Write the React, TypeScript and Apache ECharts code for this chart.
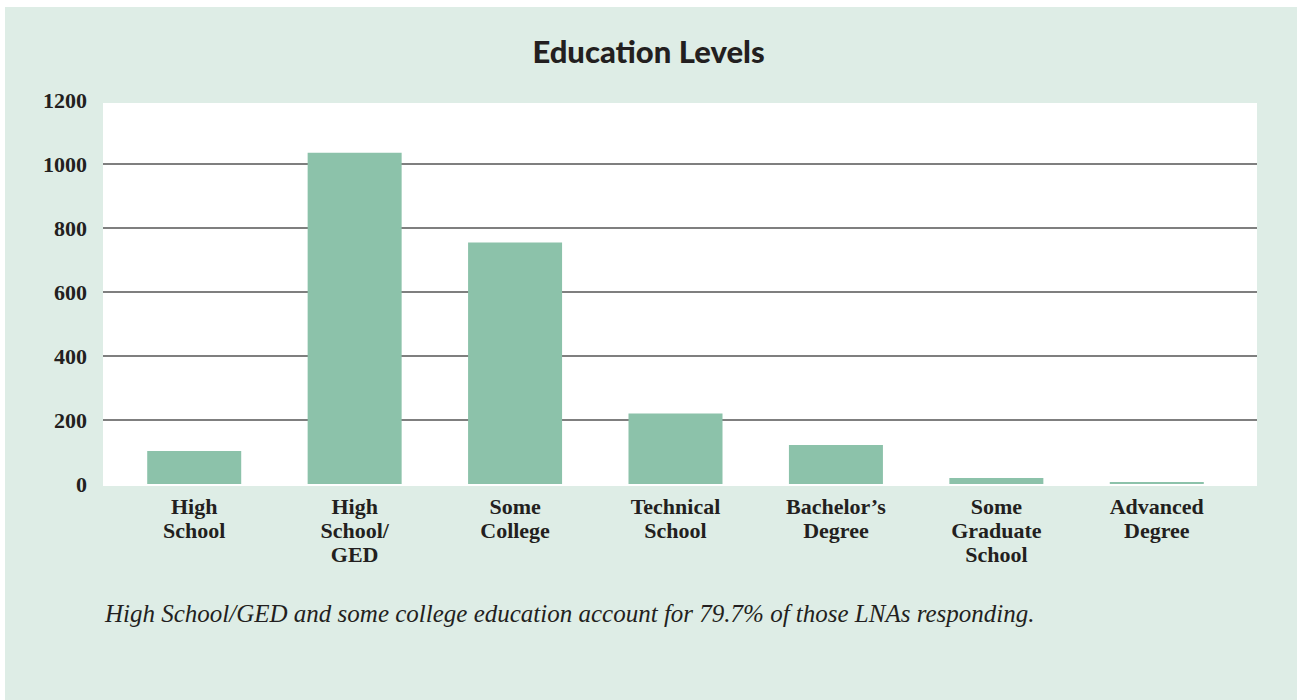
import React, { useEffect, useRef } from "react";
import * as echarts from "echarts";

const categories = [
  "High\nSchool",
  "High\nSchool/\nGED",
  "Some\nCollege",
  "Technical\nSchool",
  "Bachelor’s\nDegree",
  "Some\nGraduate\nSchool",
  "Advanced\nDegree",
];
const respondents = [103, 1035, 755, 220, 122, 19, 6];
const yTicks = { min: 0, max: 1200, interval: 200 };
const titleText = "Education Levels";
const captionText =
  "High School/GED and some college education account for 79.7% of those LNAs responding.";

const SERIF = '"Liberation Serif", "Times New Roman", serif';

export default function App() {
  const ref = useRef<HTMLDivElement>(null);
  useEffect(() => {
    if (!ref.current) return;
    const chart = echarts.init(ref.current, undefined, { renderer: "svg" });
    const gridTop = 100;
    const gridBottom = 700 - 484;
    chart.setOption({
      animation: false,
      backgroundColor: "#ffffff",
      title: [
        {
          text: titleText,
          left: "center",
          top: 30,
          textStyle: {
            fontFamily: "Lato, 'Noto Sans', sans-serif",
            fontWeight: 900,
            fontSize: 31,
            color: "#231f20",
          },
        },
        {
          text: captionText,
          left: 100,
          top: 596,
          textStyle: {
            fontFamily: SERIF,
            fontStyle: "italic",
            fontWeight: "normal",
            fontSize: 25,
            color: "#231f20",
          },
        },
      ],
      graphic: [
        {
          type: "rect",
          z: -100,
          silent: true,
          shape: { x: 5, y: 7, width: 1292, height: 693 },
          style: { fill: "#deede6" },
        },
        {
          type: "rect",
          z: -99,
          silent: true,
          shape: { x: 103, y: 103, width: 1154, height: 383 },
          style: { fill: "#ffffff" },
        },
      ],
      grid: [
        { left: 103, right: 40, top: gridTop, bottom: gridBottom },
        { left: 114, right: 60, top: gridTop, bottom: gridBottom },
      ],
      xAxis: [
        {
          type: "category",
          gridIndex: 0,
          data: categories,
          show: false,
        },
        {
          type: "category",
          gridIndex: 1,
          data: categories,
          axisLine: { show: false },
          axisTick: { show: false },
          axisLabel: {
            interval: 0,
            margin: 10,
            fontFamily: SERIF,
            fontWeight: "bold",
            fontSize: 22,
            lineHeight: 24,
            color: "#231f20",
          },
        },
      ],
      yAxis: [
        {
          type: "value",
          gridIndex: 0,
          min: yTicks.min,
          max: yTicks.max,
          interval: yTicks.interval,
          axisLine: { show: false },
          axisTick: { show: false },
          axisLabel: {
            margin: 16,
            formatter: (v: number) => String(v),
            fontFamily: SERIF,
            fontWeight: "bold",
            fontSize: 22,
            color: "#231f20",
          },
          splitLine: {
            show: true,
            showMinLine: false,
            showMaxLine: false,
            lineStyle: { color: "#555555", width: 1.5 },
          },
        },
        {
          type: "value",
          gridIndex: 1,
          min: yTicks.min,
          max: yTicks.max,
          interval: yTicks.interval,
          show: false,
          splitLine: { show: false },
        },
      ],
      series: [
        {
          type: "bar",
          xAxisIndex: 1,
          yAxisIndex: 1,
          data: respondents,
          barWidth: 94,
          itemStyle: { color: "#8cc2aa" },
          z: 3,
        },
      ],
    });
    return () => chart.dispose();
  }, []);
  return (
    <div
      ref={ref}
      style={{ position: "fixed", left: 0, top: 0, width: 1297, height: 700 }}
    />
  );
}
